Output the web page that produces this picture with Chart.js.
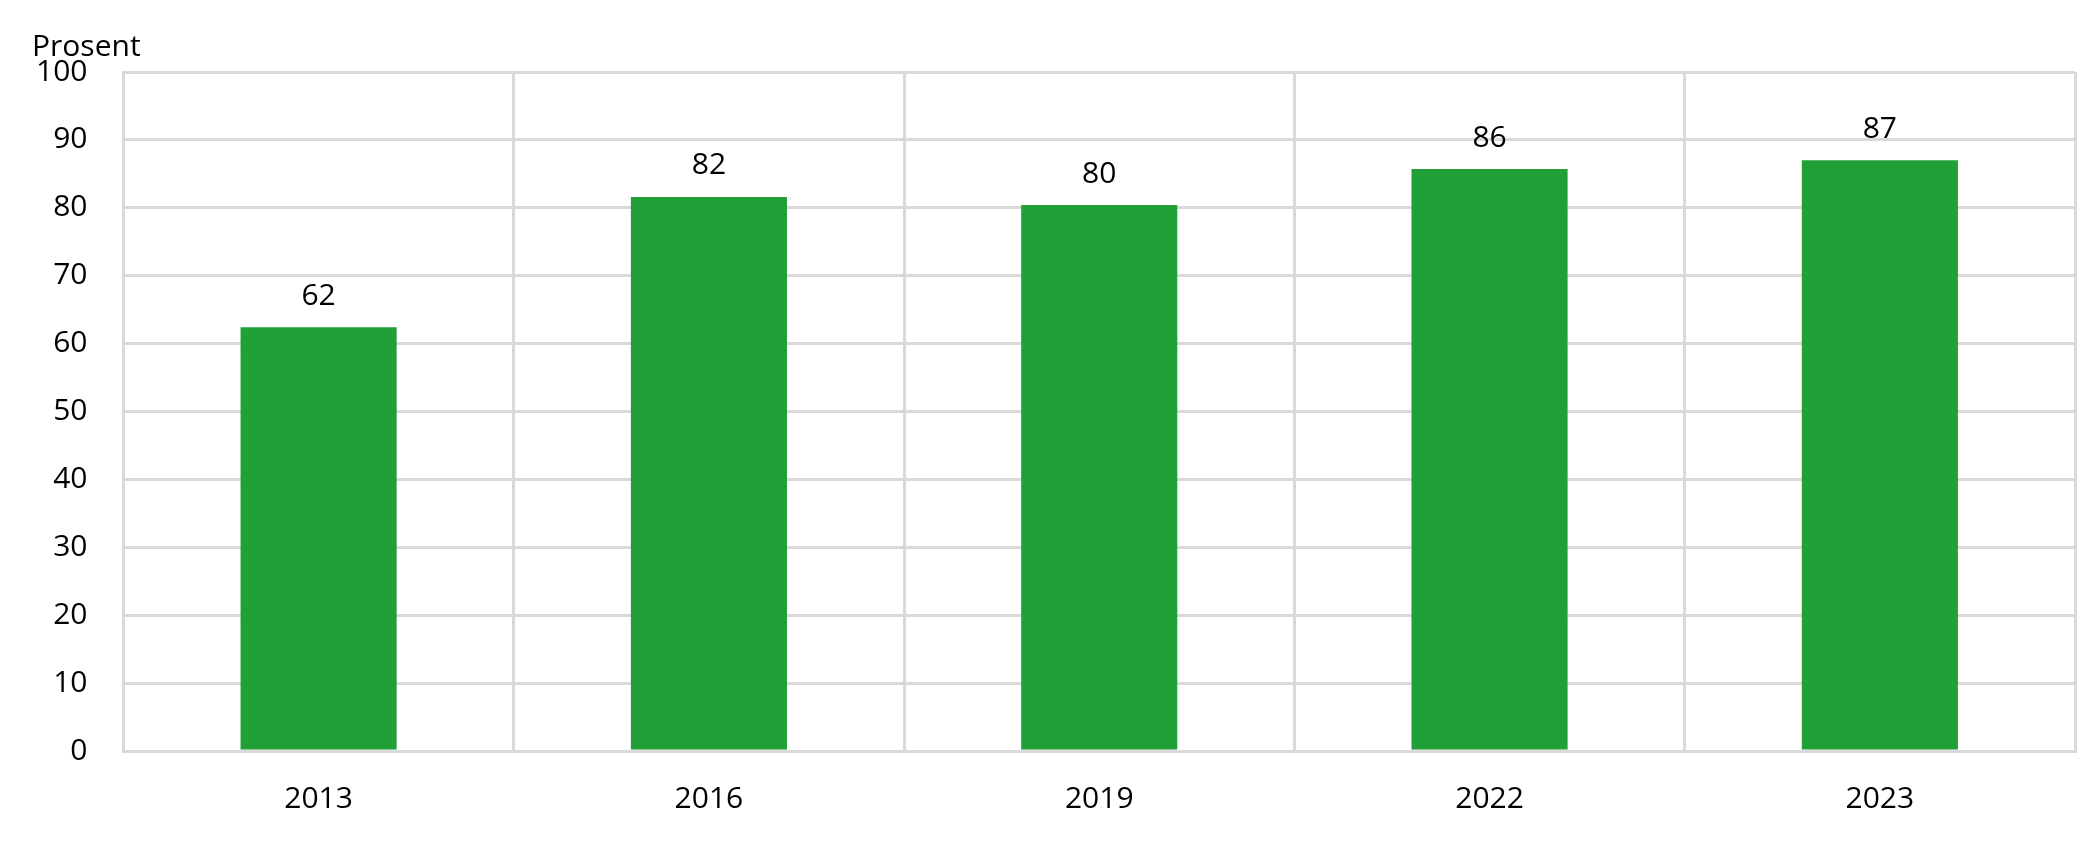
<!DOCTYPE html>
<html><head><meta charset="utf-8">
<script src="https://cdn.jsdelivr.net/npm/chart.js@4"></script>
<style>html,body{margin:0;padding:0;background:#fff}#w{width:2079px;height:857px}</style>
</head><body><div id="w"><canvas id="c"></canvas></div>
<script>
const categories = ["2013","2016","2019","2022","2023"];
const values = [62.4, 81.6, 80.4, 85.7, 87.0];
const valueLabels = ["62","82","80","86","87"];
const yTitle = "Prosent";
const font = "'Open Sans', sans-serif";
const labelPlugin = {
  id: 'lbl',
  afterDatasetsDraw(chart) {
    const ctx = chart.ctx, meta = chart.getDatasetMeta(0);
    ctx.save();
    ctx.fillStyle = '#000';
    ctx.font = "30px " + font;
    ctx.textAlign = 'center'; ctx.textBaseline = 'bottom';
    meta.data.forEach((b, i) => ctx.fillText(valueLabels[i], b.x, b.y - 16));
    ctx.textAlign = 'left'; ctx.textBaseline = 'middle';
    ctx.fillText(yTitle, 32, 47);
    ctx.restore();
  }
};
new Chart(document.getElementById('c'), {
  type: 'bar',
  data: { labels: categories, datasets: [{ data: values, backgroundColor: '#21a038', categoryPercentage: 0.4, barPercentage: 1 }] },
  options: {
    responsive: true, maintainAspectRatio: false, animation: false,
    layout: { padding: { top: 72, right: 4, bottom: 10, left: 0 } },
    plugins: { legend: { display: false }, tooltip: { enabled: false } },
    scales: {
      x: { offset: true, grid: { offset: true, color: '#d9d9d9', lineWidth: 3, drawTicks: false },
           border: { color: '#d9d9d9', width: 3 },
           ticks: { color: '#000', font: { family: font, size: 30 }, padding: 30 } },
      y: { min: 0, max: 100, grid: { color: '#d9d9d9', lineWidth: 3, drawTicks: false },
           border: { color: '#d9d9d9', width: 3 },
           ticks: { stepSize: 10, color: '#000', font: { family: font, size: 30 }, padding: 36 } }
    }
  },
  plugins: [labelPlugin]
});
</script></body></html>
